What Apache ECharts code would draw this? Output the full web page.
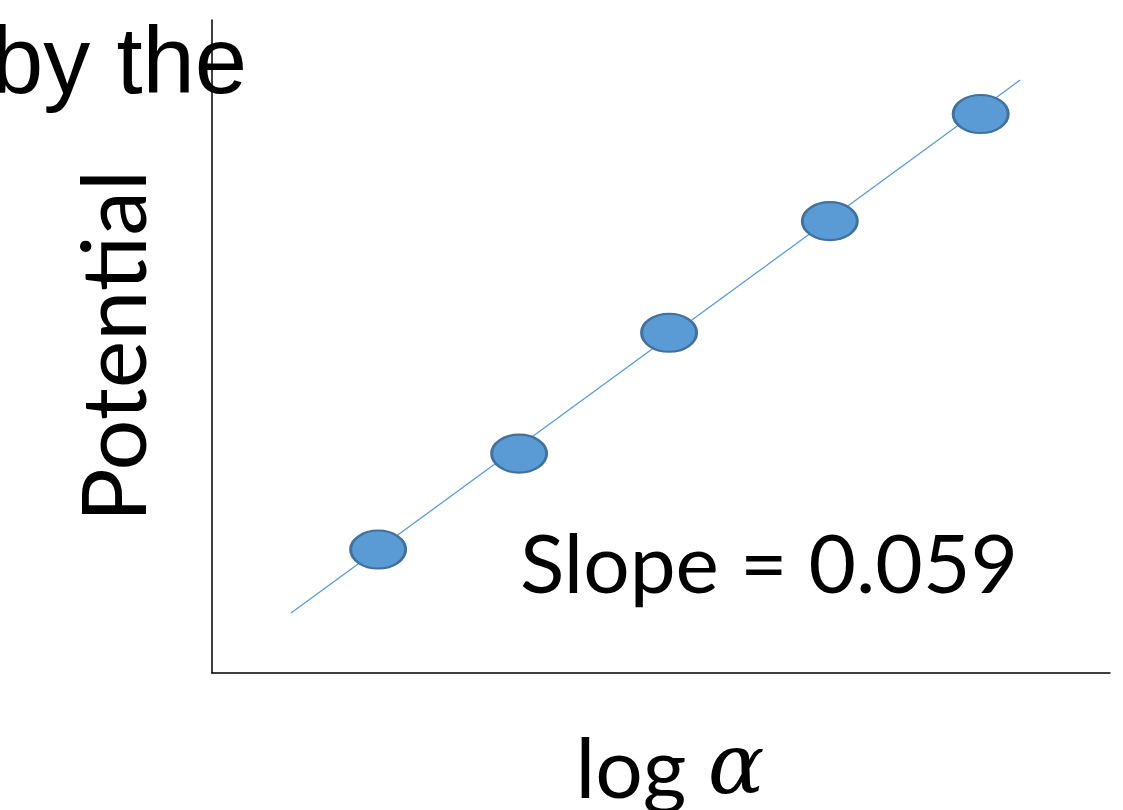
<!DOCTYPE html>
<html><head><meta charset="utf-8">
<script src="https://cdn.jsdelivr.net/npm/echarts@6/dist/echarts.min.js"></script>
<style>html,body{margin:0;padding:0;background:#fff}#c{width:1123px;height:810px}</style>
</head><body><div id="c"></div>
<script>
const logAlpha = [1.85, 3.42, 5.09, 6.88, 8.56];
const potential = [1.89, 3.36, 5.21, 6.92, 8.56];
const fitX = [0.88, 9.0];
const fitY = [0.92, 9.08];
const xLabel = 'log α';
const yLabel = 'Potential';
const slopeText = 'Slope = 0.059';
const topText = 'by the';

const xParts = xLabel.split(' ');
const chart = echarts.init(document.getElementById('c'));
chart.setOption({
  animation: false,
  backgroundColor: '#fff',
  grid: {left: 212, top: 20, width: 898, height: 653},
  xAxis: {type: 'value', min: 0, max: 10, axisLine: {show: true, onZero: false, lineStyle: {color: '#000', width: 1.5}},
    axisTick: {show: false}, axisLabel: {show: false}, splitLine: {show: false}},
  yAxis: {type: 'value', min: 0, max: 10, axisLine: {show: true, onZero: false, lineStyle: {color: '#000', width: 1.5}},
    axisTick: {show: false}, axisLabel: {show: false}, splitLine: {show: false}},
  series: [
    {type: 'line', data: fitX.map((x, i) => [x, fitY[i]]), showSymbol: false, symbol: 'none',
     lineStyle: {color: '#5b9bd5', width: 1.3}, z: 1},
    {type: 'scatter', data: logAlpha.map((x, i) => [x, potential[i]]), symbol: 'circle', symbolSize: [55, 38],
     itemStyle: {color: '#5b9bd5', borderColor: '#41719c', borderWidth: 2.5, opacity: 1}, z: 2}
  ],
  graphic: [
    {type: 'text', left: -9, top: 20, style: {text: topText, font: '94px "Liberation Sans", Arial', fill: '#000'}},
    {type: 'text', x: 162, y: 346, rotation: Math.PI / 2, style: {text: yLabel, font: '90px Lato', fill: '#000', align: 'center', verticalAlign: 'bottom'}},
    {type: 'text', x: 670, y: 813, style: {
      text: xParts[0] + ' {a|' + xParts[1] + '}', font: '84px Lato', fill: '#000', align: 'center', verticalAlign: 'bottom',
      rich: {a: {font: 'italic 84px "DejaVu Serif"', fill: '#000'}}}},
    {type: 'text', x: 520, y: 608, style: {text: slopeText, font: '82px Lato', fill: '#000', align: 'left', verticalAlign: 'bottom'}}
  ]
});
</script></body></html>
